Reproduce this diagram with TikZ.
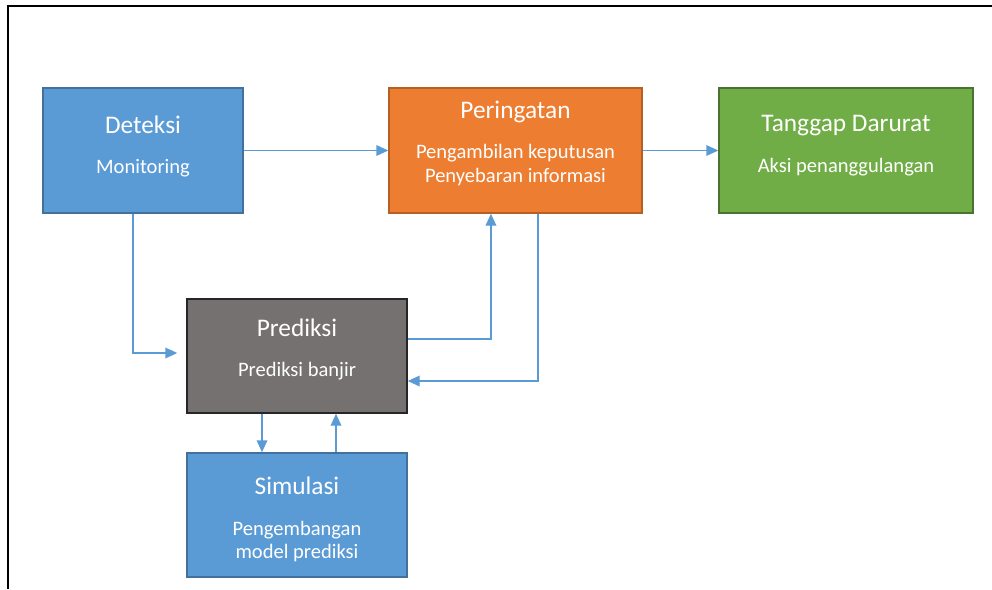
\documentclass[tikz,border=0pt]{standalone}
\usepackage{fontspec}
\setmainfont{Carlito}
\usetikzlibrary{arrows.meta}
\definecolor{biru}{HTML}{5B9BD5}
\definecolor{birutua}{HTML}{41719C}
\definecolor{oranye}{HTML}{ED7D31}
\definecolor{oranyetua}{HTML}{B65F22}
\definecolor{hijau}{HTML}{70AD47}
\definecolor{hijautua}{HTML}{4A7230}
\definecolor{abu}{HTML}{767171}
\definecolor{abutua}{HTML}{262626}
\tikzstyle{kotak} = [rectangle, inner sep=0pt, text=white, align=center, line width=1.1pt, font=\fontsize{15.4}{17.5}\selectfont]
\tikzstyle{tahapbiru} = [kotak, fill=biru, draw=birutua]
\tikzstyle{tahaporanye} = [kotak, fill=oranye, draw=oranyetua]
\tikzstyle{tahaphijau} = [kotak, fill=hijau, draw=hijautua]
\tikzstyle{tahapabu} = [kotak, fill=abu, draw=abutua]
\tikzstyle{arrow} = [line width=1.1pt, draw=biru, -{Triangle[length=9pt, width=8pt]}]
\newcommand{\judul}[1]{{\fontsize{19}{23}\selectfont #1}}

\begin{document}
\begin{tikzpicture}[x=0.75pt, y=-0.75pt]
        \useasboundingbox (0,0) rectangle (992,589);
        \draw [line width=1.5pt] (992,6) -- (8,6) -- (8,589);
        \node (deteksi) [tahapbiru, minimum width=150pt, minimum height=93.75pt, text depth=8.5pt] at (143,150.5) {\judul{Deteksi}\\[13pt]Monitoring};
        \node (peringatan) [tahaporanye, minimum width=189.75pt, minimum height=93.75pt, text depth=13.8pt] at (515.5,150.5) {\judul{Peringatan}\\[13pt]Pengambilan keputusan\\Penyebaran informasi};
        \node (tanggap) [tahaphijau, minimum width=190.5pt, minimum height=93.75pt, text depth=10pt] at (846,150.5) {\judul{Tanggap Darurat}\\[13pt]Aksi penanggulangan};
        \node (prediksi) [tahapabu, minimum width=165pt, minimum height=85.5pt, text depth=12.3pt] at (297,356) {\judul{Prediksi}\\[12pt]Prediksi banjir};
        \node (simulasi) [tahapbiru, minimum width=165pt, minimum height=93pt] at (297,515) {\judul{\rule{0pt}{20pt}Simulasi}\\[13pt]Pengembangan\\model prediksi};
        \draw [arrow] (deteksi) -- (peringatan);
        \draw [arrow] (peringatan) -- (tanggap);
        \draw [arrow, shorten >=6.75pt] ([xshift=-7.5pt]deteksi.south) |- ([yshift=2.25pt]prediksi.west);
        \draw [arrow] ([yshift=12.75pt]prediksi.east) -| ([xshift=-18.4pt]peringatan.south);
        \draw [arrow] ([xshift=16.9pt]peringatan.south) |- ([yshift=-18.75pt]prediksi.east);
        \draw [arrow] ([xshift=-26.25pt]prediksi.south) -- ([xshift=-26.25pt]simulasi.north);
        \draw [arrow] ([xshift=29.25pt]simulasi.north) -- ([xshift=29.25pt]prediksi.south);
\end{tikzpicture}
\end{document}
